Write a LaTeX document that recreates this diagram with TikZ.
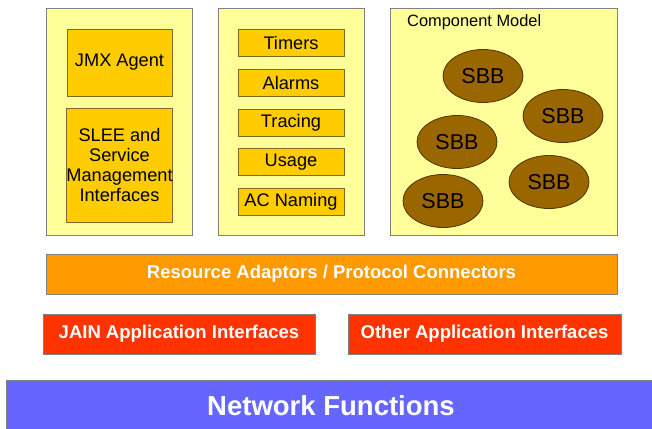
\documentclass[tikz,border=0pt]{standalone}
\usepackage{fontspec}
\setmainfont{Liberation Sans}
\usetikzlibrary{shapes.geometric}
\definecolor{panelfill}{HTML}{FFFF99}
\definecolor{panelline}{HTML}{808080}
\definecolor{goldfill}{HTML}{FFCC00}
\definecolor{goldline}{HTML}{7F6A2A}
\definecolor{sbbfill}{HTML}{996600}
\definecolor{sbbline}{HTML}{4D3300}
\definecolor{rafill}{HTML}{FF9900}
\definecolor{aifill}{HTML}{FF3300}
\definecolor{nffill}{HTML}{6666FF}
\begin{document}
\begin{tikzpicture}[x=1pt,y=-1pt,
  panel/.style={draw=panelline,fill=panelfill,line width=1pt,inner sep=0pt},
  goldbox/.style={draw=goldline,fill=goldfill,line width=0.8pt,inner sep=0pt,align=center,
    font=\fontsize{18.2}{20}\selectfont},
  sbb/.style={ellipse,draw=sbbline,fill=sbbfill,line width=0.8pt,inner sep=0pt,
    minimum width=80pt,minimum height=53pt,font=\fontsize{21.5}{24}\selectfont},
  bar/.style={draw=panelline,line width=1pt,inner sep=0pt,text=white,
    font=\fontsize{18.5}{20}\selectfont\bfseries}]
\useasboundingbox (0,0) rectangle (652,428);
\clip (0,0) rectangle (652,428);
% panels
\node[panel,minimum width=146pt,minimum height=226pt] (p1) at (119,122) {};
\node[panel,minimum width=146pt,minimum height=226pt] (p2) at (291,122) {};
\node[panel,minimum width=227pt,minimum height=226pt] (p3) at (503.5,122) {};
% panel 1
\node[goldbox,minimum width=105pt,minimum height=67pt] (jmx) at (119.5,62.5) {JMX Agent};
\node[goldbox,minimum width=105pt,minimum height=114pt] (slee) at (119.5,165) {SLEE and\\Service\\Management\\Interfaces};
% panel 2
\node[goldbox,minimum width=106pt,minimum height=27pt] (timers) at (291,42.5) {Timers};
\node[goldbox,minimum width=106pt,minimum height=27pt] (alarms) at (291,82.5) {Alarms};
\node[goldbox,minimum width=106pt,minimum height=27pt] (tracing) at (291,122.5) {Tracing};
\node[goldbox,minimum width=106pt,minimum height=27pt] (usage) at (291,162) {Usage};
\node[goldbox,minimum width=106pt,minimum height=27pt] (acn) at (291,201.5) {AC Naming};
% panel 3
\node[anchor=west,inner sep=0pt,font=\fontsize{16.4}{19}\selectfont] (cm) at (407,22) {Component Model};
\node[sbb] (s1) at (483,76) {SBB};
\node[sbb] (s2) at (563,116) {SBB};
\node[sbb] (s3) at (457,142) {SBB};
\node[sbb] (s4) at (549,182) {SBB};
\node[sbb] (s5) at (443,201) {SBB};
% bars
\node[bar,fill=rafill,minimum width=571pt,minimum height=40pt] (ra) at (331.5,274) {Resource Adaptors / Protocol Connectors};
\node[bar,fill=aifill,minimum width=272pt,minimum height=40pt] (jain) at (179,334) {JAIN Application Interfaces};
\node[bar,fill=aifill,minimum width=273pt,minimum height=40pt] (other) at (484.5,334) {Other Application Interfaces};
\node[bar,fill=nffill,minimum width=660pt,minimum height=60pt,anchor=north west] (nf) at (6,380) {};
\node[text=white,inner sep=0pt,font=\fontsize{27.5}{30}\selectfont\bfseries] (nft) at (331,406) {Network Functions};
\end{tikzpicture}
\end{document}
